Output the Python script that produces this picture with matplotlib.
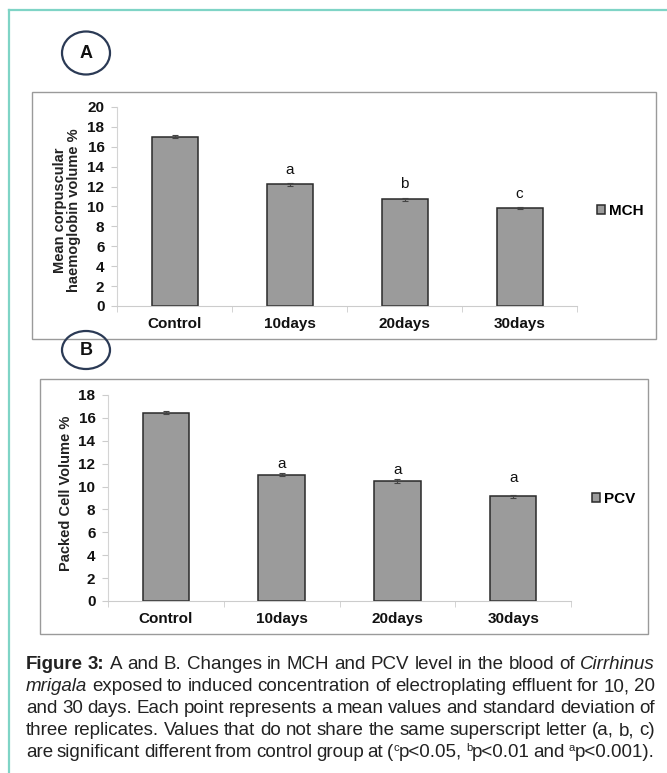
import re
import matplotlib
matplotlib.use("Agg")
import matplotlib.pyplot as plt
from matplotlib.patches import Ellipse, Rectangle
from matplotlib.lines import Line2D

plt.rcParams['font.family'] = ['Liberation Sans', 'DejaVu Sans']

# data
groups = ["Control", "10days", "20days", "30days"]
mch = [17.0, 12.25, 10.75, 9.85]
mch_err = [0.15, 0.15, 0.15, 0.12]
mch_letters = ["", "a", "b", "c"]
pcv = [16.45, 11.05, 10.45, 9.15]
pcv_err = [0.15, 0.15, 0.18, 0.15]
pcv_letters = ["", "a", "a", "a"]

caption = [
    "*Figure* *3:* A and B. Changes in MCH and PCV level in the blood of /Cirrhinus/",
    "/mrigala/ exposed to induced concentration of electroplating effluent for 10, 20",
    "and 30 days. Each point represents a mean values and standard deviation of",
    "three replicates. Values that do not share the same superscript letter (a, b, c)",
    "are significant different from control group at (^c^p<0.05, ^b^p<0.01 and ^a^p<0.001).",
]

W, H = 667, 773
fig = plt.figure(figsize=(W / 100, H / 100), dpi=100)


def fx(x):
    return x / W


def fy(y):
    return 1 - y / H


# teal page border (top and left)
fig.add_artist(Line2D([fx(9), 1], [fy(10), fy(10)], color="#7fd4c6", lw=1.6))
fig.add_artist(Line2D([fx(9), fx(9)], [fy(10), 0], color="#7fd4c6", lw=1.6))

# grey frames round the two charts
for x0, y0, x1, y1 in [(32, 92, 656, 339), (40, 379, 648, 634)]:
    fig.add_artist(Rectangle((fx(x0), fy(y1)), fx(x1) - fx(x0), fy(y0) - fy(y1),
                             transform=fig.transFigure, fill=False,
                             edgecolor="#9a9a9a", lw=1.0))

# panel badges
for lab, cx, cy, w, h in [("A", 86, 53, 48, 43), ("B", 86, 350, 48, 38)]:
    fig.add_artist(Ellipse((fx(cx), fy(cy)), w / W, h / H, transform=fig.transFigure,
                           fill=False, edgecolor="#2b3a55", lw=1.6))
    fig.text(fx(cx), fy(cy), lab, ha="center", va="center", fontsize=13,
             fontweight="bold", color="#111111")


def bar_panel(rect, vals, errs, letters, ymax, name, ylabel, ylab_xy, leg_xy, let_off):
    ax = fig.add_axes(rect)
    x = range(len(groups))
    ax.bar(x, vals, width=0.4, color="#9b9b9b", edgecolor="#2a2a2a", lw=1.1,
           yerr=errs, error_kw=dict(ecolor="#444444", elinewidth=0.8, capsize=2,
                                    capthick=0.8), label=name, zorder=2)
    for i, (v, e, t) in enumerate(zip(vals, errs, letters)):
        if t:
            ax.annotate(t, (i, v + e), xytext=(0, let_off[i]), textcoords="offset points",
                        ha="center", va="center", fontsize=11, color="#111111")
    ax.set_xlim(-0.5, len(groups) - 0.5)
    ax.set_ylim(0, ymax)
    ax.set_yticks(range(0, ymax + 1, 2))
    ax.set_xticks(list(x))
    ax.set_xticklabels(groups)
    ax.set_xticks([i + 0.5 for i in range(-1, len(groups))], minor=True)
    ax.tick_params(axis="x", which="major", length=0, pad=8)
    ax.tick_params(axis="x", which="minor", length=4, color="#cccccc", direction="out")
    ax.tick_params(axis="y", length=4, color="#cccccc", pad=5)
    for lbl in ax.get_xticklabels() + ax.get_yticklabels():
        lbl.set_fontweight("bold")
        lbl.set_fontsize(11)
        lbl.set_color("#111111")
    for s in ["top", "right"]:
        ax.spines[s].set_visible(False)
    ax.spines["left"].set_color("#d4d4d4")
    ax.spines["bottom"].set_color("#cccccc")
    fig.text(fx(ylab_xy[0]), fy(ylab_xy[1]), ylabel, rotation=90, ha="center",
             va="center", fontsize=10.5, fontweight="bold", color="#222222",
             linespacing=1.05, multialignment="center")
    ax.legend(loc="center left", bbox_to_anchor=(fx(leg_xy[0]), fy(leg_xy[1])),
              bbox_transform=fig.transFigure, frameon=False, handlelength=0.55,
              handleheight=0.55, handletextpad=0.25, borderpad=0, borderaxespad=0,
              prop=dict(weight="bold", size=11))
    return ax


bar_panel([fx(117), fy(306), (577 - 117) / W, (306 - 107) / H], mch, mch_err,
          mch_letters, 20, "MCH", "Mean corpuscular\nhaemoglobin volume %",
          (67, 210), (597, 211), [0, 9, 10, 9])
bar_panel([fx(108), fy(601), (571 - 108) / W, (601 - 395) / H], pcv, pcv_err,
          pcv_letters, 18, "PCV", "Packed Cell Volume %",
          (66, 493), (592, 499), [0, 6.5, 7, 12])

# justified caption
renderer = fig.canvas.get_renderer()
left, right = 26, 655
line_y = [663, 685, 707, 729, 751]
fs = 13.5


def runs_of(word):
    out = []
    for part in re.findall(r"\*[^*]+\*|/[^/]+/|\^[^^]+\^|[^*/^]+", word):
        if part.startswith("*"):
            out.append((part[1:-1], "bold"))
        elif part.startswith("/") and len(part) > 1:
            out.append((part[1:-1], "italic"))
        elif part.startswith("^"):
            out.append((part[1:-1], "sup"))
        else:
            out.append((part, "normal"))
    return out


def make_text(s, style, x, y):
    kw = dict(fontsize=fs, color="#222222", va="baseline", ha="left")
    if style == "bold":
        kw["fontweight"] = "bold"
    elif style == "italic":
        kw["fontstyle"] = "italic"
    elif style == "sup":
        kw["fontsize"] = fs * 0.6
        y = y + 6 / H
    return fig.text(x, y, s, **kw)


for line, ly in zip(caption, line_y):
    words = [runs_of(w) for w in line.split(" ")]
    items = []
    total = 0
    for w in words:
        arts = []
        ww = 0
        for s, st in w:
            t = make_text(s, st, 0, fy(ly + 6))
            wpx = t.get_window_extent(renderer).width
            arts.append((t, wpx))
            ww += wpx
        items.append(arts)
        total += ww
    gap = (right - left - total) / max(len(items) - 1, 1)
    x = left
    for arts in items:
        for t, wpx in arts:
            t.set_x(fx(x))
            x += wpx
        x += gap

fig.savefig("out.png", dpi=100)
